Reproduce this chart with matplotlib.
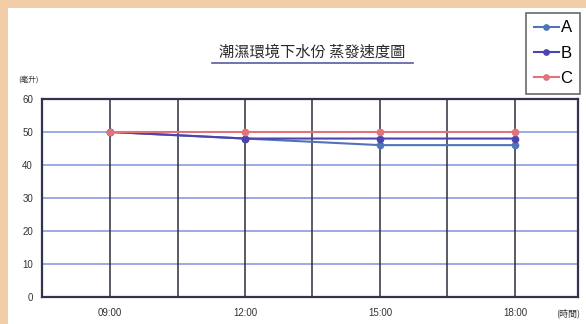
import matplotlib.pyplot as plt
from matplotlib.patches import Rectangle
from matplotlib.lines import Line2D

# 量測數據 (毫升)
times = ["09:00", "12:00", "15:00", "18:00"]
series_a = [50, 48, 46, 46]
series_b = [50, 48, 48, 48]
series_c = [50, 50, 50, 50]
names = ["A", "B", "C"]
colors = ["#4f74b8", "#4b45ad", "#e4727a"]

cjk = ["Noto Sans CJK TC", "DejaVu Sans"]
plt.rcParams["font.family"] = ["Liberation Sans", "Noto Sans CJK TC"]

fig = plt.figure(figsize=(5.86, 3.24), dpi=100, facecolor="#f1cda8")
# 白色紙張區域
fig.patches.append(Rectangle((8 / 586, 0), 1, 1 - 8 / 324, transform=fig.transFigure,
                             facecolor="white", edgecolor="none", zorder=-5))

ax = fig.add_axes([42 / 586, 1 - 296.7 / 324, (578 - 42) / 586, (296.7 - 99) / 324])
ax.set_zorder(2)
ax.set_facecolor("white")

x = list(range(len(times)))
for vals, name, col in zip([series_a, series_b, series_c], names, colors):
    ax.plot(x, vals, color=col, lw=1.5, marker="o", ms=4.5, label=name, zorder=3)

ax.set_xlim(-0.504, 3.467)
ax.set_ylim(0, 60)
ax.set_yticks(range(0, 61, 10))
ax.set_xticks(x)
ax.set_xticklabels(times)
ax.tick_params(length=0, labelsize=7, colors="#333333", pad=8)
ax.tick_params(axis="y", pad=6.5)

# 格線
for yv in range(10, 60, 10):
    ax.axhline(yv, color="#7f96d6", lw=1.1, zorder=1)
for xv in [0, 0.5, 1, 1.5, 2, 2.5, 3]:
    ax.axvline(xv, color="#2e2e3a", lw=1.1, zorder=1)
for s in ax.spines.values():
    s.set_color("#33334f")
    s.set_linewidth(1.6)

# 標題 (加底線)
fig.text(312 / 586, 1 - 52 / 324, "潮濕環境下水份 蒸發速度圖", ha="center", va="center",
         fontsize=11, family=cjk, color="#2a2a2a")
fig.lines.append(Line2D([212 / 586, 413 / 586], [1 - 63 / 324, 1 - 63 / 324],
                        transform=fig.transFigure, color="#5a5aa0", lw=1.2))

fig.text(28 / 586, 1 - 80 / 324, "(毫升)", ha="center", va="center", fontsize=5.5,
         family=cjk, color="#333333")
fig.text(568 / 586, 1 - 313 / 324, "(時間)", ha="center", va="center", fontsize=6.5,
         family=cjk, color="#333333")

leg = fig.legend(loc="upper right", bbox_to_anchor=(580 / 586, 1 - 13 / 324),
                 fontsize=12, frameon=True, fancybox=False, handlelength=1.5,
                 handletextpad=0.1, labelspacing=0.62, borderpad=0.45,
                 borderaxespad=0, markerscale=0.85)
leg.get_frame().set_edgecolor("#444444")
leg.get_frame().set_linewidth(1.2)

fig.savefig("out.png", dpi=100, facecolor=fig.get_facecolor())
